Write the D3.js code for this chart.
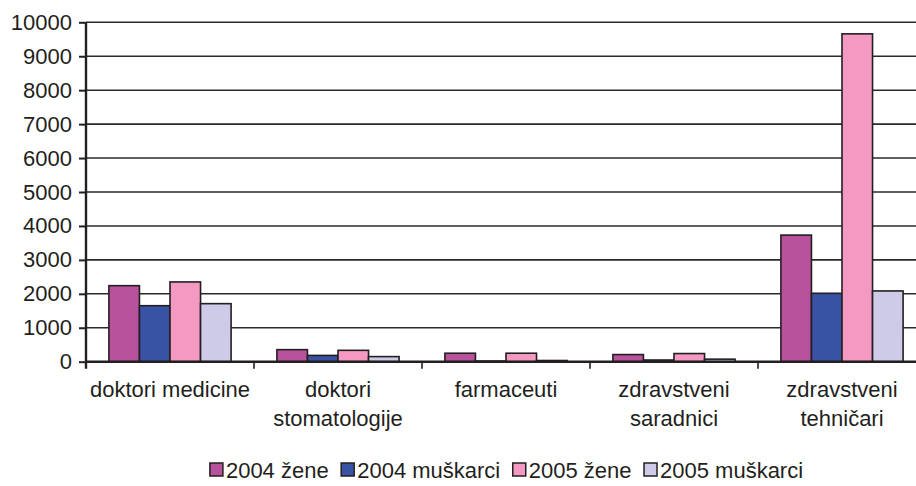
<!DOCTYPE html>
<html>
<head>
<meta charset="utf-8">
<script src="https://cdn.jsdelivr.net/npm/d3@7"></script>
<style>
  body { margin: 0; background: #fff; }
  svg { display: block; font-family: "Liberation Sans", Arial, sans-serif; }
</style>
</head>
<body>
<svg id="chart" width="916" height="486"></svg>
<script>
// data
const categories = ["doktori medicine", "doktori stomatologije", "farmaceuti", "zdravstveni saradnici", "zdravstveni tehničari"];
const catLines = [["doktori medicine"], ["doktori", "stomatologije"], ["farmaceuti"], ["zdravstveni", "saradnici"], ["zdravstveni", "tehničari"]];
const series = ["2004 žene", "2004 muškarci", "2005 žene", "2005 muškarci"];
const zene2004 = [2240, 355, 250, 210, 3730];
const muskarci2004 = [1650, 185, 20, 50, 2015];
const zene2005 = [2350, 335, 250, 240, 9660];
const muskarci2005 = [1710, 150, 35, 75, 2085];
const yTicks = [0, 1000, 2000, 3000, 4000, 5000, 6000, 7000, 8000, 9000, 10000];

const colors = ["#b8529c", "#3953a4", "#f49ac2", "#cdcbe7"];
const values = [zene2004, muskarci2004, zene2005, muskarci2005];

const margin = {top: 22.3, left: 86, bottom: 124.3};
const W = 916, H = 486;
const plotRight = 926; // plot runs off the right edge of the picture

const svg = d3.select("#chart");

const x0 = d3.scaleBand()
  .domain(categories)
  .range([margin.left, plotRight])
  .padding(0);

const x1 = d3.scaleBand()
  .domain(series)
  .range([0, x0.bandwidth()])
  .paddingInner(0)
  .paddingOuter(0.75);

const y = d3.scaleLinear()
  .domain([0, 10000])
  .range([H - margin.bottom, margin.top]);

// grid lines
svg.append("g")
  .selectAll("line")
  .data(yTicks.slice(1))
  .enter().append("line")
  .attr("x1", margin.left).attr("x2", W)
  .attr("y1", d => y(d)).attr("y2", d => y(d))
  .attr("stroke", "#2b2a2b")
  .attr("stroke-width", 1.6);

// bars
const groups = svg.append("g")
  .selectAll("g")
  .data(categories)
  .enter().append("g")
  .attr("transform", d => `translate(${x0(d)},0)`);

groups.selectAll("rect")
  .data((c, i) => series.map((s, j) => ({s: s, v: values[j][i], j: j})))
  .enter().append("rect")
  .attr("x", d => x1(d.s))
  .attr("width", x1.bandwidth())
  .attr("y", d => y(d.v))
  .attr("height", d => y(0) - y(d.v))
  .attr("fill", d => colors[d.j])
  .attr("stroke", "#231f20")
  .attr("stroke-width", 1.6);

// y axis
const yAxis = d3.axisLeft(y)
  .tickValues(yTicks)
  .tickFormat(d3.format("d"))
  .tickSize(7)
  .tickPadding(7);

svg.append("g")
  .attr("transform", `translate(${margin.left},0)`)
  .call(yAxis)
  .call(g => g.select(".domain").remove())
  .call(g => g.selectAll("line").attr("stroke", "#231f20").attr("stroke-width", 2))
  .call(g => g.selectAll("text")
    .attr("fill", "#231f20")
    .style("font-size", "22px")
    .style("font-family", "'Liberation Sans', Arial, sans-serif"));

svg.append("line")
  .attr("x1", margin.left).attr("x2", margin.left)
  .attr("y1", margin.top).attr("y2", y(0) + 7)
  .attr("stroke", "#231f20").attr("stroke-width", 2.4);

// x axis line and ticks at band edges
svg.append("line")
  .attr("x1", margin.left).attr("x2", W)
  .attr("y1", y(0)).attr("y2", y(0))
  .attr("stroke", "#231f20").attr("stroke-width", 2.4);

svg.append("g")
  .selectAll("line")
  .data(categories.slice(1))
  .enter().append("line")
  .attr("x1", d => x0(d)).attr("x2", d => x0(d))
  .attr("y1", y(0)).attr("y2", y(0) + 7)
  .attr("stroke", "#231f20").attr("stroke-width", 1.6);

// category labels
const catLabels = svg.append("g")
  .selectAll("text")
  .data(categories)
  .enter().append("text")
  .attr("text-anchor", "middle")
  .attr("fill", "#231f20")
  .style("font-size", "22px")
  .attr("transform", d => `translate(${x0(d) + x0.bandwidth() / 2},0)`);

catLabels.selectAll("tspan")
  .data((d, i) => catLines[i])
  .enter().append("tspan")
  .attr("x", 0)
  .attr("y", (d, i) => 397 + i * 29)
  .text(d => d);

// legend
const gap = 12.5;
const legend = svg.append("g").attr("id", "legend");
let lx = 0;
series.forEach((s, j) => {
  const item = legend.append("g").attr("transform", `translate(${lx},0)`);
  item.append("rect")
    .attr("x", 0).attr("y", 463)
    .attr("width", 13).attr("height", 13)
    .attr("fill", colors[j])
    .attr("stroke", "#231f20").attr("stroke-width", 1.5);
  const t = item.append("text")
    .attr("x", 16).attr("y", 478)
    .attr("fill", "#231f20")
    .style("font-size", "22px")
    .text(s);
  lx += 16 + t.node().getComputedTextLength() + gap;
});
const lw = lx - gap;
legend.attr("transform", `translate(${506.5 - lw / 2},0)`);
</script>
</body>
</html>
